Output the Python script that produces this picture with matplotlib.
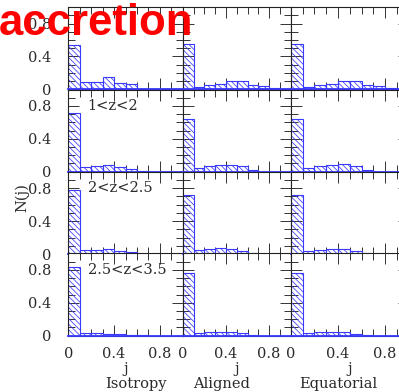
import matplotlib
matplotlib.use("Agg")
import matplotlib.pyplot as plt
from matplotlib.ticker import MultipleLocator, FixedLocator

# === Histogram data: N(j) in bins of width 0.1 ===
bin_lo = [0.0, 0.1, 0.2, 0.3, 0.4, 0.5, 0.6, 0.7, 0.8, 0.9]

isotropy = [
    [0.54, 0.085, 0.085, 0.146, 0.075, 0.06, 0.005, 0.0, 0.0, 0.0],
    [0.71, 0.053, 0.065, 0.08, 0.053, 0.033, 0.005, 0.0, 0.0, 0.0],
    [0.78, 0.045, 0.045, 0.057, 0.04, 0.025, 0.005, 0.0, 0.0, 0.0],
    [0.83, 0.03, 0.03, 0.025, 0.02, 0.01, 0.003, 0.0, 0.0, 0.0],
]
aligned = [
    [0.55, 0.03, 0.05, 0.065, 0.1, 0.1, 0.055, 0.04, 0.01, 0.0],
    [0.64, 0.04, 0.07, 0.085, 0.085, 0.07, 0.02, 0.0, 0.0, 0.0],
    [0.72, 0.049, 0.057, 0.07, 0.057, 0.04, 0.008, 0.0, 0.0, 0.0],
    [0.76, 0.033, 0.04, 0.05, 0.04, 0.03, 0.005, 0.0, 0.0, 0.0],
]
equatorial = [
    [0.55, 0.03, 0.05, 0.065, 0.1, 0.105, 0.05, 0.04, 0.01, 0.0],
    [0.64, 0.04, 0.07, 0.085, 0.09, 0.07, 0.02, 0.0, 0.0, 0.0],
    [0.72, 0.04, 0.05, 0.065, 0.057, 0.04, 0.01, 0.0, 0.0, 0.0],
    [0.76, 0.033, 0.04, 0.05, 0.04, 0.025, 0.005, 0.0, 0.0, 0.0],
]

models = ["Isotropy", "Aligned", "Equatorial"]
z_labels = [None, "1<z<2", "2<z<2.5", "2.5<z<3.5"]
tick_labels = ["0", "0.4", "0.8"]

# === Layout (pixels) ===
W, H = 399, 392
col_left = [68.3, 182.7, 290.7]
col_width = [114.4, 108.0, 118.0]
row_zero = [89.3, 171.7, 254.0, 335.7]
row_height = 82.2

BLUE = "#3a3aff"
SERIF = "DejaVu Serif"
INK = "#2a2a2a"

plt.rcParams["hatch.linewidth"] = 0.55

fig = plt.figure(figsize=(W / 100, H / 100), dpi=100)

columns = [isotropy, aligned, equatorial]
for c, data in enumerate(columns):
    for r in range(4):
        left = col_left[c] / W
        bottom = 1 - row_zero[r] / H
        ax = fig.add_axes([left, bottom, col_width[c] / W, row_height / H])
        ax.bar(bin_lo, data[r], width=0.1, align="edge", facecolor="none",
               edgecolor=BLUE, hatch="\\" * 6, linewidth=0.8, zorder=2)
        ax.axhline(0, color=BLUE, lw=1.3, zorder=4, clip_on=False)
        ax.set_xlim(0, 1)
        ax.set_ylim(0, 1)

        ax.xaxis.set_major_locator(FixedLocator([0, 0.4, 0.8]))
        ax.xaxis.set_minor_locator(MultipleLocator(0.1))
        ax.yaxis.set_major_locator(FixedLocator([0, 0.4, 0.8]))
        ax.yaxis.set_minor_locator(MultipleLocator(0.1))
        ax.tick_params(which="both", direction="in", top=True, right=True,
                       color="#333333", width=0.7)
        ax.tick_params(which="major", length=8)
        ax.tick_params(which="minor", length=5)
        ax.tick_params(axis="y", pad=12)
        ax.tick_params(axis="x", pad=8)
        for sp in ax.spines.values():
            sp.set_linewidth(0.8)
            sp.set_color("#222222")

        if c == 0:
            ax.set_yticklabels(tick_labels, family=SERIF, fontsize=10.5,
                               color=INK)
        else:
            ax.set_yticklabels([])
        if r == 3:
            ax.set_xticklabels(tick_labels, family=SERIF, fontsize=10.5,
                               color=INK)
            ax.text(0.5, -0.41, "j", transform=ax.transAxes, ha="center",
                    va="center", family=SERIF, fontsize=10.5, color=INK)
        else:
            ax.set_xticklabels([])

        if c == 0 and z_labels[r]:
            ax.text(0.17, 0.80, z_labels[r], transform=ax.transAxes,
                    ha="left", va="center", family=SERIF, fontsize=10.5,
                    color=INK)

# model names under each column
for name, x in zip(models, [136, 222, 338]):
    fig.text(x / W, 1 - 384 / H, name, ha="center", va="center",
             family=SERIF, fontsize=10.5, color=INK)

fig.text(22 / W, 1 - 198 / H, "N(j)", rotation=90, ha="center", va="center",
         family=SERIF, fontsize=10.5, color=INK)

fig.text(-1 / W, 1 - 35 / H, "accretion", ha="left", va="baseline",
         family="Liberation Sans", fontweight="bold", fontsize=31.5,
         color="#ff0000", zorder=10)

fig.savefig("out.png", dpi=100)
